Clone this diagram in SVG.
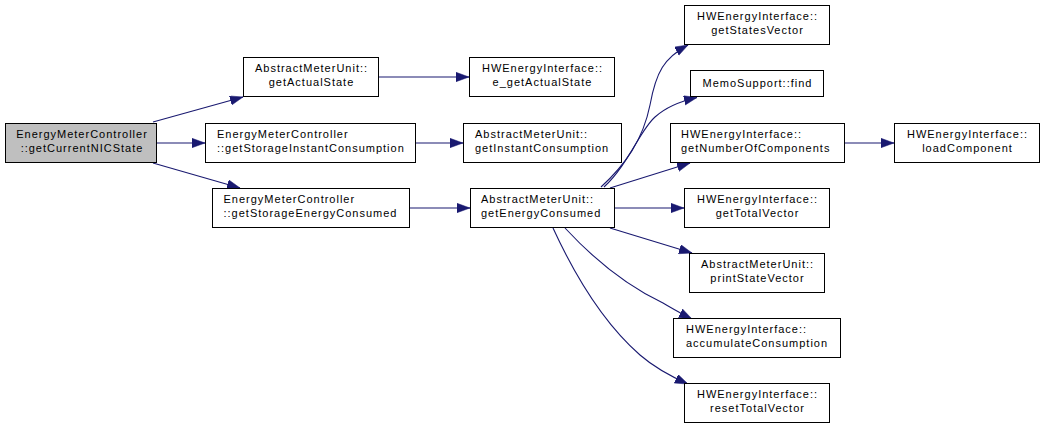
<svg xmlns="http://www.w3.org/2000/svg" width="1045" height="429" viewBox="0 0 1045 429">
<style>
.n rect{fill:#ffffff;stroke:#000000;stroke-width:1}
.n rect.root{fill:#bfbfbf}
.n text{font-family:"Liberation Sans",Arial,sans-serif;font-size:11px;letter-spacing:1px;fill:#000000}
.c{text-anchor:middle}
.e path{fill:none;stroke:#191970;stroke-width:1.1}
</style>
<defs>
<marker id="ah" markerUnits="userSpaceOnUse" markerWidth="14" markerHeight="10" refX="13" refY="4.7" orient="auto">
<path d="M0,0 L13,4.7 L0,9.4 Z" fill="#191970" stroke="#191970" stroke-width="0.5"/>
</marker>
</defs>
<rect width="1045" height="429" fill="#ffffff"/>
<g id="connectors" class="e">
<path d="M153,122 L243,97" marker-end="url(#ah)"/>
<path d="M157,143 L205,143" marker-end="url(#ah)"/>
<path d="M153,163 L240,188" marker-end="url(#ah)"/>
<path d="M379,77 L469,77" marker-end="url(#ah)"/>
<path d="M416,143 L463,143" marker-end="url(#ah)"/>
<path d="M409,208 L470,208" marker-end="url(#ah)"/>
<path d="M601,187 C625,165 643,140 650,105 C656,72 664,58 688,45" marker-end="url(#ah)"/>
<path d="M604,187 C628,165 640,130 655,117 C665,108 677,102 697,97.5" marker-end="url(#ah)"/>
<path d="M610,188 L690,163" marker-end="url(#ah)"/>
<path d="M845,143 L894,143" marker-end="url(#ah)"/>
<path d="M614,208 L684,208" marker-end="url(#ah)"/>
<path d="M610,228 L692,253" marker-end="url(#ah)"/>
<path d="M565,228 C590,255 625,285 663,303 C670,307 680,313 692,319" marker-end="url(#ah)"/>
<path d="M553,228 C570,265 600,320 640,355 C655,368 670,376 688,384" marker-end="url(#ah)"/>
</g>
<g id="n1" class="n"><rect class="root" x="5.5" y="123.5" width="151" height="39"/><text class="c" x="82" y="138">EnergyMeterController</text><text class="c" x="82" y="151.5">::getCurrentNICState</text></g>
<g id="n2" class="n"><rect x="243.5" y="57.5" width="135" height="39"/><text class="c" x="311.5" y="72">AbstractMeterUnit::</text><text class="c" x="311.5" y="85.5">getActualState</text></g>
<g id="n3" class="n"><rect x="205.5" y="123.5" width="210" height="39"/><text x="217" y="138">EnergyMeterController</text><text x="217" y="151.5">::getStorageInstantConsumption</text></g>
<g id="n4" class="n"><rect x="212.5" y="188.5" width="197" height="39"/><text x="223.5" y="203">EnergyMeterController</text><text x="223.5" y="216.5">::getStorageEnergyConsumed</text></g>
<g id="n5" class="n"><rect x="469.5" y="57.5" width="145" height="39"/><text class="c" x="542.5" y="72">HWEnergyInterface::</text><text class="c" x="542.5" y="85.5">e_getActualState</text></g>
<g id="n6" class="n"><rect x="463.5" y="123.5" width="158" height="39"/><text x="475" y="138">AbstractMeterUnit::</text><text x="475" y="151.5">getInstantConsumption</text></g>
<g id="n7" class="n"><rect x="470.5" y="188.5" width="144" height="39"/><text x="481" y="203">AbstractMeterUnit::</text><text x="481" y="216.5">getEnergyConsumed</text></g>
<g id="n8" class="n"><rect x="684.5" y="5.5" width="145" height="39"/><text class="c" x="757.5" y="20">HWEnergyInterface::</text><text class="c" x="757.5" y="33.5">getStatesVector</text></g>
<g id="n9" class="n"><rect x="690.5" y="70.5" width="133" height="26"/><text class="c" x="757.5" y="87">MemoSupport::find</text></g>
<g id="n10" class="n"><rect x="670.5" y="123.5" width="174" height="39"/><text x="681" y="138">HWEnergyInterface::</text><text x="681" y="151.5">getNumberOfComponents</text></g>
<g id="n11" class="n"><rect x="894.5" y="123.5" width="145" height="39"/><text class="c" x="967.5" y="138">HWEnergyInterface::</text><text class="c" x="967.5" y="151.5">loadComponent</text></g>
<g id="n12" class="n"><rect x="684.5" y="188.5" width="145" height="39"/><text class="c" x="757.5" y="203">HWEnergyInterface::</text><text class="c" x="757.5" y="216.5">getTotalVector</text></g>
<g id="n13" class="n"><rect x="689.5" y="253.5" width="135" height="39"/><text class="c" x="757.5" y="268">AbstractMeterUnit::</text><text class="c" x="757.5" y="281.5">printStateVector</text></g>
<g id="n14" class="n"><rect x="673.5" y="318.5" width="167" height="39"/><text x="686" y="333">HWEnergyInterface::</text><text x="686" y="346.5">accumulateConsumption</text></g>
<g id="n15" class="n"><rect x="684.5" y="383.5" width="145" height="39"/><text class="c" x="757.5" y="398">HWEnergyInterface::</text><text class="c" x="757.5" y="411.5">resetTotalVector</text></g>
</svg>
